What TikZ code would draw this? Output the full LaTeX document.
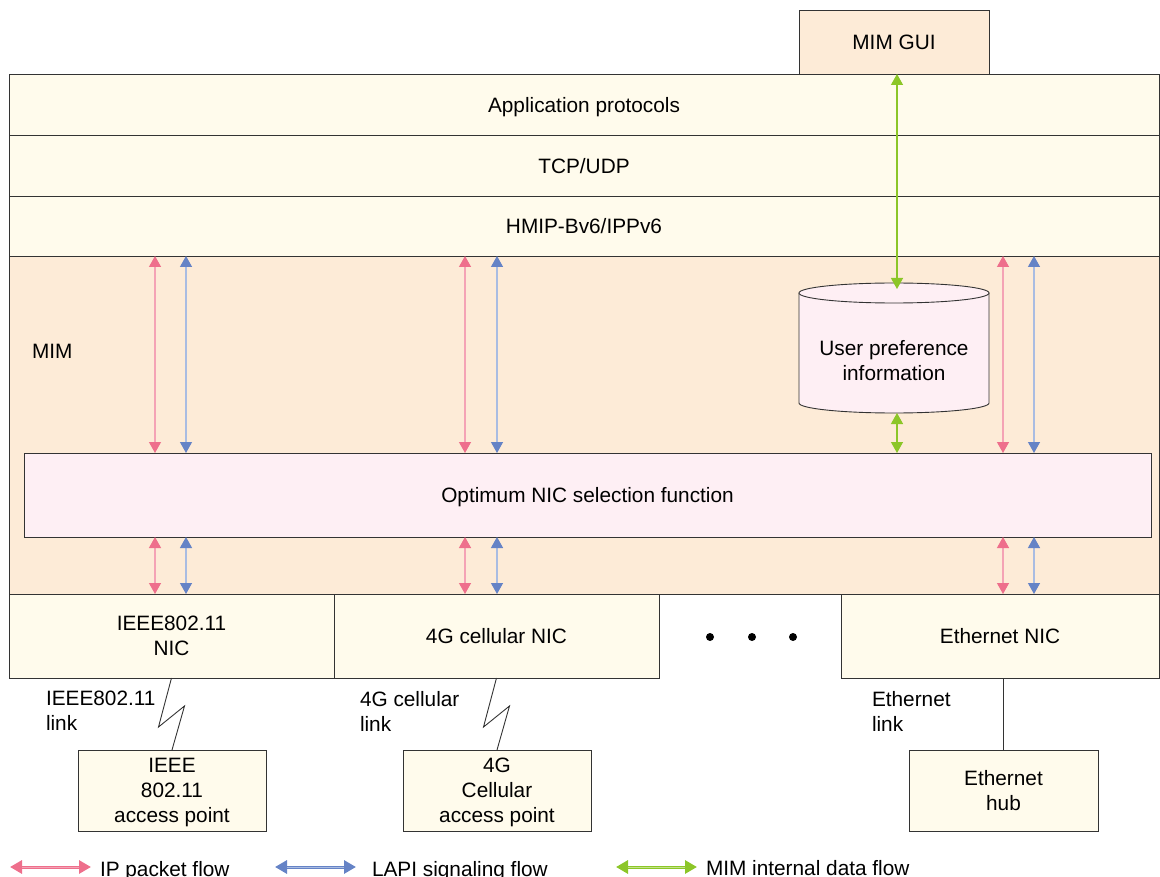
\documentclass[tikz,border=0pt]{standalone}
\usepackage{fontspec}
\setmainfont{Liberation Sans}
\usetikzlibrary{arrows.meta}
\definecolor{cream}{HTML}{FFFBEC}
\definecolor{peach}{HTML}{FDEBD7}
\definecolor{pinkfill}{HTML}{FEEFF4}
\definecolor{ipred}{HTML}{EE6F8C}
\definecolor{iplight}{HTML}{F4A3B5}
\definecolor{lapiblue}{HTML}{6583C6}
\definecolor{lapilight}{HTML}{A9BCE2}
\definecolor{mimgreen}{HTML}{8CC628}
\definecolor{mimlight}{HTML}{C3E38A}
\definecolor{edge}{HTML}{333333}
\begin{document}
\begin{tikzpicture}[x=1pt,y=-1pt,
  txt/.style={font=\fontsize{20.8}{25}\selectfont, inner sep=0pt, outer sep=0pt, text depth=0pt},
  box/.style={txt, draw=edge, line width=0.9pt, anchor=north west, align=center},
  layer/.style={box, fill=cream},
  flow/.style={line width=1.3pt},
  ipflow/.style={flow, draw=iplight, {Triangle[width=12pt,length=11pt,color=ipred]}-{Triangle[width=12pt,length=11pt,color=ipred]}},
  lapiflow/.style={flow, draw=lapilight, {Triangle[width=12pt,length=11pt,color=lapiblue]}-{Triangle[width=12pt,length=11pt,color=lapiblue]}},
  dataflow/.style={flow, draw=mimgreen, {Triangle[width=12pt,length=11pt,color=mimgreen]}-{Triangle[width=12pt,length=11pt,color=mimgreen]}},
  legline/.style={line width=3pt, {Triangle[width=13pt,length=12pt]}-{Triangle[width=13pt,length=12pt]}},
  link/.style={draw=edge, line width=0.9pt}
]
\useasboundingbox (0,0) rectangle (1160,877);

% MIM region and protocol layers
\node[box, fill=peach, minimum width=1150pt, minimum height=338pt] (mim) at (9,256) {};
\node[txt, anchor=west] (mimlbl) at (32,351) {MIM};
\node[layer, minimum width=1150pt, minimum height=61pt] (app) at (9,74) {Application protocols};
\node[layer, minimum width=1150pt, minimum height=61pt] (tcp) at (9,135) {TCP/UDP};
\node[layer, minimum width=1150pt, minimum height=60pt] (hmip) at (9,196) {HMIP-Bv6/IPPv6};
\node[box, fill=peach, minimum width=190pt, minimum height=64pt] (gui) at (799,10) {MIM GUI};

% selection function
\node[box, fill=pinkfill, minimum width=1127pt, minimum height=84pt] (opt) at (24,453) {Optimum NIC selection function};

% user preference store (cylinder)
\fill[pinkfill] (799,293) -- (799,403) arc[start angle=180,end angle=0,x radius=95,y radius=10] -- (989,293) -- cycle;
\draw[link] (799,293) -- (799,403) arc[start angle=180,end angle=0,x radius=95,y radius=10] -- (989,293);
\filldraw[link, fill=pinkfill] (894,293) ellipse[x radius=95,y radius=10];
\node[inner sep=0pt, outer sep=0pt, minimum width=190pt, minimum height=130pt, anchor=north] (upi) at (894,283) {};
\node[txt, align=center] (upitxt) at (894,360) {User preference\\information};

% network interface cards
\node[layer, minimum width=325pt, minimum height=84pt] (nic1) at (9,594) {IEEE802.11\\NIC};
\node[layer, minimum width=325pt, minimum height=84pt] (nic2) at (334,594) {4G cellular NIC};
\node[layer, minimum width=318pt, minimum height=84pt] (nic3) at (841,594) {Ethernet NIC};
\foreach \x in {710,752,793} \fill[black] (\x,637) circle[radius=4];

% access points
\node[layer, minimum width=188pt, minimum height=81pt] (ap1) at (78,750) {IEEE\\802.11\\access point};
\node[layer, minimum width=188pt, minimum height=81pt] (ap2) at (403,750) {4G\\Cellular\\access point};
\node[layer, minimum width=189pt, minimum height=81pt] (hub) at (909,750) {Ethernet\\hub};

% links
\draw[link] (nic1.south) -- ++(-13,49) -- ++(26,-21) -- (ap1.north);
\draw[link] (nic2.south) -- ++(-13,49) -- ++(26,-21) -- (ap2.north);
\draw[link] (hub.north) -- (hub.north |- nic3.south);
\node[txt, anchor=west, align=left] (l1lbl) at (46,711) {IEEE802.11\\link};
\node[txt, anchor=west, align=left] (l2lbl) at (360,711) {4G cellular\\link};
\node[txt, anchor=west, align=left] (l3lbl) at (872,711) {Ethernet\\link};

% flow arrows
\coordinate (r1) at (155,0); \coordinate (b1) at (186,0);
\coordinate (r2) at (465,0); \coordinate (b2) at (497,0);
\coordinate (r3) at (1003,0); \coordinate (b3) at (1034,0);
\coordinate (g) at (897,0);
\foreach \r/\b in {r1/b1, r2/b2, r3/b3} {
  \draw[ipflow] (\r |- hmip.south) -- (\r |- opt.north);
  \draw[lapiflow] (\b |- hmip.south) -- (\b |- opt.north);
  \draw[ipflow] (\r |- opt.south) -- (\r |- mim.south);
  \draw[lapiflow] (\b |- opt.south) -- (\b |- mim.south);
}
\draw[dataflow] (g |- gui.south) -- ([yshift=-6pt]g |- upi.north);
\draw[dataflow] (g |- upi.south) -- (g |- opt.north);

% legend
\node[txt, anchor=west] (lg1) at (100,869) {IP packet flow};
\node[txt, anchor=west] (lg2) at (372,869) {LAPI signaling flow};
\node[txt, anchor=west] (lg3) at (706,868) {MIM internal data flow};
\coordinate (lg1s) at (10,867);
\coordinate (lg2s) at (275,867);
\coordinate (lg3s) at (616,867);
\draw[legline, ipred] (lg1s) -- (lg1s -| 91,0);
\draw[line width=1pt, iplight] ([xshift=12pt]lg1s) -- (lg1s -| 79,0);
\draw[legline, lapiblue] (lg2s) -- (lg2s -| 356,0);
\draw[line width=1pt, lapilight] ([xshift=12pt]lg2s) -- (lg2s -| 344,0);
\draw[legline, mimgreen] (lg3s) -- (lg3s -| 697,0);
\draw[line width=1pt, mimlight] ([xshift=12pt]lg3s) -- (lg3s -| 685,0);
\end{tikzpicture}
\end{document}
